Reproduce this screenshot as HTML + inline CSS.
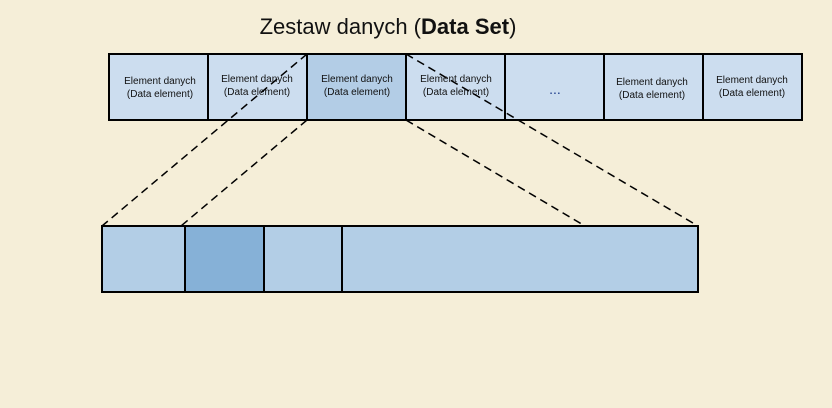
<!DOCTYPE html>
<html><head><meta charset="utf-8"><style>
body{margin:0;width:832px;height:403px;background:#F5EED8;overflow:hidden}
</style></head><body>
<svg width="832" height="403" xmlns="http://www.w3.org/2000/svg" font-family="Liberation Sans, sans-serif">
<rect width="832" height="403" fill="#F5EED8"/>
<text x="388" y="34" font-size="22" text-anchor="middle" fill="#111">Zestaw danych (<tspan font-weight="bold">Data Set</tspan>)</text>
<g stroke="#000" stroke-width="2">
<rect x="109" y="54" width="693" height="66" fill="#CCDDEF"/>
<rect x="307" y="54" width="99" height="66" fill="#B3CDE6"/>
<line x1="208" y1="54" x2="208" y2="120"/>
<line x1="505" y1="54" x2="505" y2="120"/>
<line x1="604" y1="54" x2="604" y2="120"/>
<line x1="703" y1="54" x2="703" y2="120"/>
<rect x="102" y="226" width="596" height="66" fill="#B3CEE6"/>
<rect x="185" y="226" width="79" height="66" fill="#86B1D7"/>
<line x1="342" y1="226" x2="342" y2="292"/>
</g>
<g font-size="10" fill="#111" text-anchor="middle">
<text x="160" y="84">Element danych</text><text x="160" y="97">(Data element)</text>
<text x="257" y="82">Element danych</text><text x="257" y="95">(Data element)</text>
<text x="357" y="82">Element danych</text><text x="357" y="95">(Data element)</text>
<text x="456" y="82">Element danych</text><text x="456" y="95">(Data element)</text>
<text x="555" y="94" font-size="14" fill="#1a3a8a">...</text>
<text x="652" y="85">Element danych</text><text x="652" y="98">(Data element)</text>
<text x="752" y="83">Element danych</text><text x="752" y="96">(Data element)</text>
</g>
<g stroke="#000" stroke-width="1.5" stroke-dasharray="8,5" fill="none">
<line x1="307" y1="54" x2="102" y2="226"/>
<line x1="307" y1="120" x2="181" y2="226"/>
<line x1="406" y1="54" x2="698" y2="226"/>
<line x1="406" y1="120" x2="585" y2="226"/>
</g>
</svg>
</body></html>
